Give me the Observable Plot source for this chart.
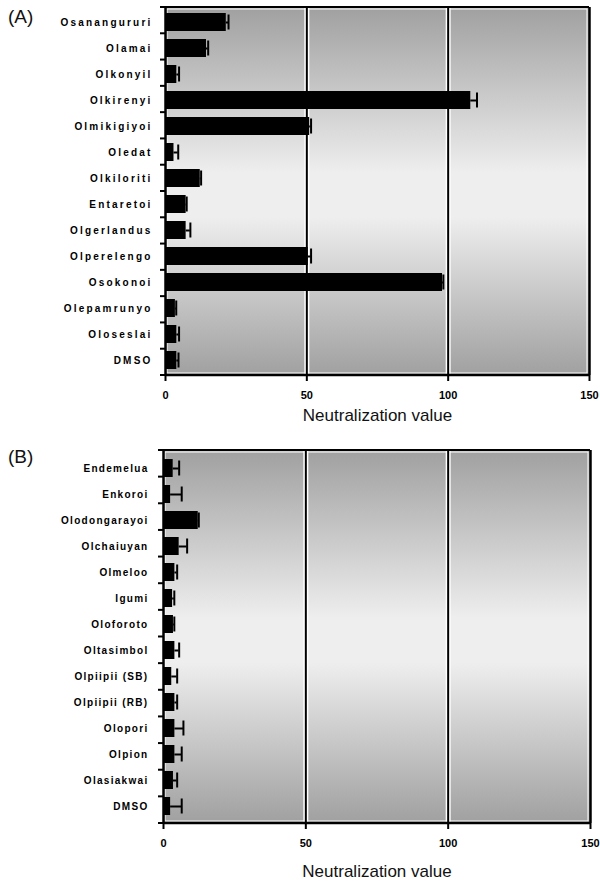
<!DOCTYPE html>
<html><head><meta charset="utf-8">
<script src="https://cdn.jsdelivr.net/npm/d3@7"></script>
<script src="https://cdn.jsdelivr.net/npm/@observablehq/plot@0.6"></script>
<style>
body{margin:0;background:#fff;font-family:"Liberation Sans",Arial,sans-serif;}
.panel{position:relative;width:600px;}
.tag{position:absolute;left:8px;font-size:19px;color:#111;}
#a [aria-label="y-axis tick label"] text{letter-spacing:2.2px;}
#b [aria-label="y-axis tick label"] text{letter-spacing:1.3px;}
svg{display:block;}
</style></head><body>
<div id="a" class="panel"><div class="tag" style="top:6px">(A)</div></div>
<div id="b" class="panel"><div class="tag" style="top:6px">(B)</div></div>
<script>
// Panel A
const namesA = ["Osanangururi","Olamai","Olkonyil","Olkirenyi","Olmikigiyoi","Oledat","Olkiloriti","Entaretoi","Olgerlandus","Olperelengo","Osokonoi","Olepamrunyo","Oloseslai","DMSO"];
const valuesA = [21.5,14.5,4,108,51,3,12.3,7.3,7.3,50.5,98,3.5,4,4];
const errorsA = [0.8,0.6,0.8,2.2,0.5,1.5,0.3,0.2,1.5,1,0.3,0.3,0.8,0.6];
// Panel B
const namesB = ["Endemelua","Enkoroi","Olodongarayoi","Olchaiuyan","Olmeloo","Igumi","Oloforoto","Oltasimbol","Olpiipii (SB)","Olpiipii (RB)","Olopori","Olpion","Olasiakwai","DMSO"];
const valuesB = [3.4,2.5,12.2,5.5,4,3.2,3.5,4,2.9,4,4,4,3.5,2.5];
const errorsB = [2.1,3.9,0.2,2.8,0.8,0.6,0.3,1.5,1.9,0.8,3,2.4,1.3,3.9];
const xTicks = [0,50,100,150];
const gridAt = [50,100];
const xTitle = "Neutralization value";

function background(id){
  return (index, scales, values, dims) => {
    const {marginLeft:l, marginTop:t, marginRight:r, marginBottom:b, width:w, height:h} = dims;
    const g = d3.create("svg:g");
    const lg = g.append("defs").append("linearGradient").attr("id", id)
      .attr("x1",0).attr("x2",0).attr("y1",0).attr("y2",1);
    [[0,"#a0a0a0"],[0.45,"#eeeeee"],[0.57,"#eeeeee"],[1,"#a0a0a0"]]
      .forEach(([o,c]) => lg.append("stop").attr("offset",o).attr("stop-color",c));
    g.append("rect").attr("x",l).attr("y",t).attr("width",w-l-r).attr("height",h-t-b).attr("fill",`url(#${id})`);
    g.append("rect").attr("x",l+2).attr("y",t+2).attr("width",w-l-r-4).attr("height",h-t-b-4)
      .attr("fill","none").attr("stroke","#fff").attr("stroke-width",1);
    return g.node();
  };
}
function frameLines(n){
  return (index, scales, values, dims) => {
    const {marginLeft:l, marginTop:t, marginRight:r, marginBottom:b, width:w, height:h} = dims;
    const g = d3.create("svg:g").attr("stroke","#000");
    g.append("line").attr("x1",l).attr("x2",w-r).attr("y1",t).attr("y2",t).attr("stroke-width",2);
    g.append("line").attr("x1",l).attr("x2",w-r).attr("y1",h-b).attr("y2",h-b).attr("stroke-width",2.5);
    const step = (h-t-b)/n;
    for (let i = 0; i <= n; i++) {
      const yy = t + i*step;
      g.append("line").attr("x1",l-5).attr("x2",l).attr("y1",yy).attr("y2",yy).attr("stroke-width",2);
    }
    return g.node();
  };
}

function panel(names, values, errors, id, opts){
  const data = names.map((n,i) => ({name:n, value:values[i], err:errors[i]}));
  return Plot.plot({
    width: 600,
    height: opts.height,
    marginLeft: opts.ml,
    marginRight: opts.mr,
    marginTop: opts.mt,
    marginBottom: opts.mb,
    style: {fontFamily: "'Liberation Sans', Arial, sans-serif", color: "#000", background: "transparent"},
    x: {domain: [0,150]},
    y: {domain: names, paddingInner: 0.32, paddingOuter: 0.16},
    marks: [
      background(id),
      Plot.ruleX(gridAt, {stroke: "#fff", strokeWidth: 5}),
      Plot.ruleX(gridAt, {stroke: "#000", strokeWidth: 2}),
      Plot.ruleX([150], {stroke: "#000", strokeWidth: 2.5}),
      Plot.ruleY(data, {y: "name", x1: "value", x2: d => d.value + d.err, stroke: "#000", strokeWidth: 2}),
      Plot.tickX(data, {y: "name", x: d => d.value + d.err, stroke: "#000", strokeWidth: 2, insetTop: 1.5, insetBottom: 1.5}),
      Plot.barX(data, {y: "name", x: "value", fill: "#000"}),
      Plot.ruleX([0], {stroke: "#000", strokeWidth: 2.5}),
      frameLines(names.length),
      Plot.axisY({tickSize: 0, tickPadding: opts.ypad, fontSize: opts.yfs, fontWeight: "bold", label: null}),
      Plot.axisX({ticks: xTicks, tickSize: 6, tickPadding: 10, fontSize: 11, fontWeight: "bold", strokeWidth: 2, label: null}),
      Plot.text([xTitle], {frameAnchor: "bottom", dy: opts.titleDy, fontSize: 17, fill: "#111"})
    ]
  });
}

document.getElementById("a").append(panel(namesA, valuesA, errorsA, "gA",
  {height: 440, ml: 165, mr: 11, mt: 7, mb: 65, ypad: 13, yfs: 10, titleDy: 45}));
document.getElementById("b").append(panel(namesB, valuesB, errorsB, "gB",
  {height: 448, ml: 163, mr: 10, mt: 10, mb: 65, ypad: 15, yfs: 10, titleDy: 53}));
</script>
</body></html>
